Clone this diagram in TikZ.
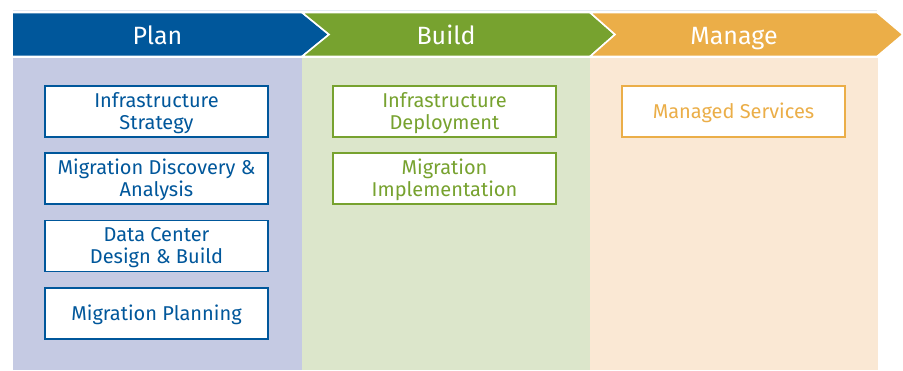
\documentclass[tikz,border=0pt]{standalone}
\usepackage{fontspec}
\setmainfont{Fira Sans}
\definecolor{planblue}{HTML}{00579B}
\definecolor{buildgreen}{HTML}{77A22F}
\definecolor{manageorange}{HTML}{EBAE48}
\definecolor{planbg}{HTML}{C5CAE3}
\definecolor{buildbg}{HTML}{DCE6CB}
\definecolor{managebg}{HTML}{FAE8D4}
\definecolor{topline}{HTML}{E3EAF3}
\tikzset{
  phase/.style={draw=white, line width=1.6pt},
  phasetext/.style={text=white, anchor=base, inner sep=0pt, font=\fontsize{25}{29}\selectfont},
  itembox/.style={draw, fill=white, line width=1.1pt, minimum width=223pt, minimum height=51pt, inner sep=0pt},
  planbox/.style={itembox, draw=planblue},
  buildbox/.style={itembox, draw=buildgreen},
  managebox/.style={itembox, draw=manageorange},
  itemtext/.style={align=center, inner sep=0pt, font=\fontsize{20}{22}\selectfont},
}
\begin{document}
\begin{tikzpicture}[x=1pt,y=-1pt]
\useasboundingbox (0,0) rectangle (903,370);
\fill[white] (0,0) rectangle (903,370);
\draw[topline, line width=0.8pt] (13,10) -- (877,10);
% body columns
\fill[planbg] (13,58) rectangle (302,370);
\fill[buildbg] (302,58) rectangle (590,370);
\fill[managebg] (590,58) rectangle (878,370);
% header chevrons
\filldraw[phase, fill=planblue] (12,12.5) -- (302,12.5) -- (329,34.5) -- (302,56.5) -- (12,56.5) -- cycle;
\filldraw[phase, fill=buildgreen] (302,12.5) -- (590,12.5) -- (615,34.5) -- (590,56.5) -- (302,56.5) -- (329,34.5) -- cycle;
\filldraw[phase, fill=manageorange] (590,12.5) -- (877,12.5) -- (903,34.5) -- (877,56.5) -- (590,56.5) -- (615,34.5) -- cycle;
\node[phasetext] (plan) at (157.5,44) {Plan};
\node[phasetext] (build) at (446,44) {Build};
\node[phasetext] (manage) at (734,44) {Manage};
% box frames
\node[planbox] (p1) at (156.5,111.5) {};
\node[planbox] (p2) at (156.5,178.5) {};
\node[planbox] (p3) at (156.5,246) {};
\node[planbox] (p4) at (156.5,313.5) {};
\node[buildbox] (b1) at (444.5,111.5) {};
\node[buildbox] (b2) at (444.5,178.5) {};
\node[managebox] (m1) at (733.5,111.5) {};
% box texts, set slightly below the frame centres
\node[itemtext, text=planblue] (p1t) at ([yshift=-1.5pt]p1.center) {Infrastructure\\Strategy};
\node[itemtext, text=planblue] (p2t) at ([yshift=-1.5pt]p2.center) {Migration Discovery \&\\Analysis};
\node[itemtext, text=planblue] (p3t) at ([yshift=-1.5pt]p3.center) {Data Center\\Design \& Build};
\node[itemtext, text=planblue] (p4t) at ([yshift=-1.5pt]p4.center) {Migration Planning};
\node[itemtext, text=buildgreen] (b1t) at ([yshift=-1.5pt]b1.center) {Infrastructure\\Deployment};
\node[itemtext, text=buildgreen] (b2t) at ([yshift=-1.5pt]b2.center) {Migration\\Implementation};
\node[itemtext, text=manageorange] (m1t) at ([yshift=-1.5pt]m1.center) {Managed Services};
\end{tikzpicture}
\end{document}
